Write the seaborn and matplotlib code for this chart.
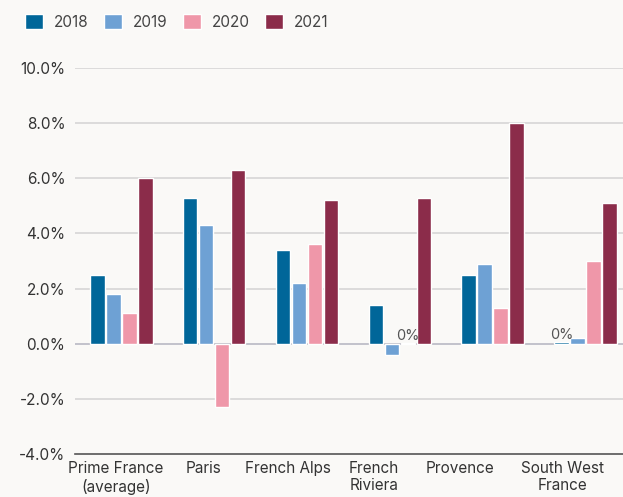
import matplotlib
matplotlib.use("Agg")
import matplotlib.pyplot as plt
import seaborn as sns
import pandas as pd

categories = ["Prime France\n(average)", "Paris", "French Alps", "French\nRiviera", "Provence", "South West\nFrance"]
years = ["2018", "2019", "2020", "2021"]
v2018 = [2.5, 5.3, 3.4, 1.4, 2.5, 0.05]
v2019 = [1.8, 4.3, 2.2, -0.4, 2.9, 0.2]
v2020 = [1.1, -2.3, 3.6, 0.04, 1.3, 3.0]
v2021 = [6.0, 6.3, 5.2, 5.3, 8.0, 5.1]
yticks = [-4, -2, 0, 2, 4, 6, 8, 10]
ytick_labels = ["-4.0%", "-2.0%", "0.0%", "2.0%", "4.0%", "6.0%", "8.0%", "10.0%"]
label_pos = [-0.06, 0.88, 1.80, 2.72, 3.65, 4.75]

colors = ["#006699", "#6ea1d4", "#ef97a9", "#8b2c4a"]
bg = "#faf9f7"

rows = []
for yr, vals in zip(years, [v2018, v2019, v2020, v2021]):
    for c, v in zip(categories, vals):
        rows.append({"cat": c, "year": yr, "val": v})
df = pd.DataFrame(rows)

sns.set_theme(style="white")
plt.rcParams["font.family"] = ["Inter", "DejaVu Sans"]

fig = plt.figure(figsize=(6.23, 4.97), dpi=100, facecolor=bg)
ax = fig.add_axes([75 / 623, 43 / 497, 1 - 75 / 623, (454 - 68) / 497])
ax.set_facecolor(bg)

sns.barplot(data=df, x="cat", y="val", hue="year", order=categories, hue_order=years,
            palette=colors, width=0.69, gap=0.1, ax=ax, saturation=1, legend=True,
            errorbar=None)

ax.set_xlim(-0.5, 5.406)
ax.set_ylim(-4, 10)
ax.set_yticks(yticks)
ax.set_yticklabels(ytick_labels)
ax.set_xticks(label_pos)
ax.set_xticklabels(categories)
ax.set_xlabel("")
ax.set_ylabel("")
ax.tick_params(axis="both", length=0, labelsize=11, labelcolor="#333333")
ax.tick_params(axis="y", pad=7)
ax.tick_params(axis="x", pad=5)

for y in yticks:
    if y == -4:
        continue
    col = "#b9b9c4" if y == 0 else "#d6d6d6"
    ax.axhline(y, color=col, lw=1.2, zorder=0)

for s in ["top", "right", "left"]:
    ax.spines[s].set_visible(False)
ax.spines["bottom"].set_color("#555555")
ax.spines["bottom"].set_linewidth(1.2)

for cont in ax.containers:
    labels = ["0%" if abs(b.get_height()) < 0.1 else "" for b in cont]
    ax.bar_label(cont, labels=labels, padding=0, fontsize=10.5, color="#555555")

handles, labs = ax.get_legend_handles_labels()
ax.get_legend().remove()
fig.legend(handles, labs, loc="upper left", bbox_to_anchor=(0.018, 1.0), ncol=4,
           frameon=False, fontsize=11, handlelength=1.2, handleheight=1.2,
           columnspacing=1.0, handletextpad=0.7, labelcolor="#444444")

fig.savefig("out.png", dpi=100, facecolor=bg)
